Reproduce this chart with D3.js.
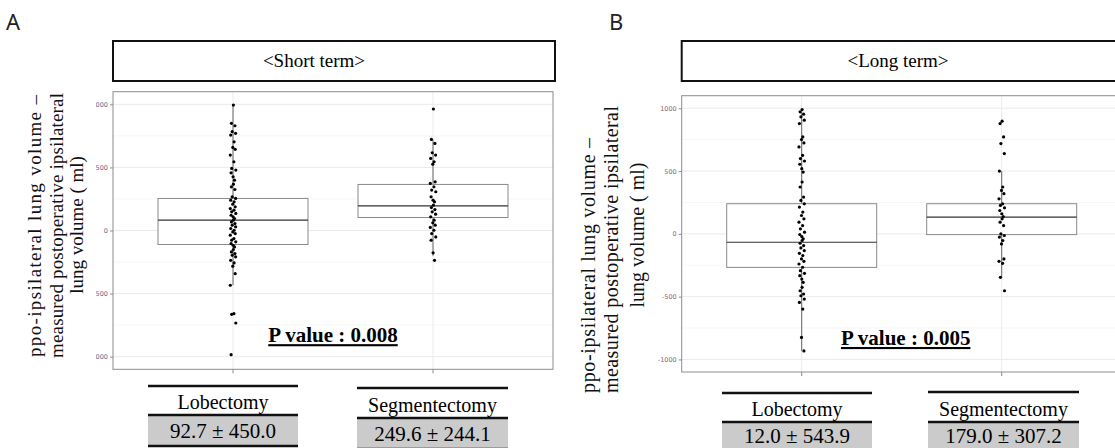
<!DOCTYPE html>
<html>
<head>
<meta charset="utf-8">
<script src="https://cdn.jsdelivr.net/npm/d3@7"></script>
<style>
  body { margin: 0; background: #fff; }
  svg { display: block; }
</style>
</head>
<body>
<svg id="chart" width="1115" height="448"></svg>
<script>
var width = 1115,
    height = 448;

// groups and y ticks
var groups = ["Lobectomy", "Segmentectomy"];
var tickVals = [-1000, -500, 0, 500, 1000];
var minorVals = [-750, -250, 250, 750];

// short term, individual differences (ml)
var shortLob = [994, 849, 830, 783, 770, 756, 703, 658, 643, 598, 545, 492, 479, 457, 426, 399, 367, 346, 325,
    267, 254, 240, 227, 209, 188, 174, 161, 148, 135, 121, 108, 95, 82, 68, 55, 42, 29, 16, 2, -11, -24, -37,
    -64, -77, -90, -103, -117, -130, -151, -170, -183, -196, -209, -236, -257, -283, -342, -434, -659, -664, -733, -984];
var shortSeg = [963, 722, 690, 616, 598, 571, 545, 526, 386, 373, 346, 320, 307, 267, 240, 227, 201, 182, 166,
    148, 129, 108, 82, 61, 42, 24, 2, -24, -51, -77, -177, -236];

// long term
var longLob = [990, 972, 953, 932, 905, 878, 772, 751, 724, 692, 625, 599, 580, 554, 519, 492, 413, 373, 293,
    266, 239, 213, 173, 146, 120, 93, 66, 40, 13, -5, -22, -40, -53, -75, -93, -112, -133, -155, -173, -200,
    -219, -240, -266, -293, -314, -333, -360, -386, -426, -453, -479, -493, -519, -546, -599, -825, -932];
var longSeg = [897, 878, 772, 719, 639, 500, 373, 346, 320, 279, 239, 226, 207, 186, 160, 138, 120, 93, 66,
    0, -13, -26, -53, -80, -200, -219, -235, -346, -453];

// box statistics
var shortBox = [
    { lo: -434, q1: -111, med: 82, q3: 254, hi: 994 },
    { lo: -200, q1: 103, med: 195, q3: 365, hi: 722 }
];
var longBox = [
    { lo: -932, q1: -267, med: -67, q3: 240, hi: 985 },
    { lo: -347, q1: -6, med: 133, q3: 240, hi: 500 }
];

// mean ± SD under each panel
var shortStats = ["92.7 ± 450.0", "249.6 ± 244.1"];
var longStats = ["12.0 ± 543.9", "179.0 ± 307.2"];
var pTexts = ["P value : 0.008", "P value : 0.005"];

var jitter = [0.4, -1.6, 1.9, -0.8, 2.6, -2.3, 1.1, -0.2, 2.2, -2.7, 0.9, -1.3, 2.8, -1.9, 0.1, 1.5];

var svg = d3.select("#chart");
var serif = "Liberation Serif, Times New Roman, serif";

// left tick labels are cut off at the figure edge in the original
svg.append("defs").append("clipPath").attr("id", "clipL")
    .append("rect").attr("x", 96).attr("y", 0).attr("width", 1019).attr("height", height);

function panel(o) {
    var x = d3.scaleLinear().domain([0.4, 2.6]).range([o.left, o.left + 440]);
    var y = d3.scaleLinear().domain([-1100, 1100]).range([o.bottom, o.top]);
    var g = svg.append("g");

    // panel letter
    svg.append("text").attr("x", o.letterX).attr("y", 30)
        .attr("font-family", "Noto Sans, DejaVu Sans, sans-serif")
        .attr("font-size", 22).attr("fill", "#222").text(o.letter);

    // strip header
    svg.append("rect").attr("x", o.left).attr("y", 41).attr("width", o.headW).attr("height", 40)
        .attr("fill", "#fff").attr("stroke", "#111").attr("stroke-width", 2);
    svg.append("text").attr("x", o.titleX).attr("y", 67)
        .attr("text-anchor", "middle").attr("font-family", serif).attr("font-size", 19)
        .text(o.title);

    // grid
    g.selectAll(".minor").data(minorVals).join("line")
        .attr("x1", o.left).attr("x2", o.left + 440)
        .attr("y1", d => y(d)).attr("y2", d => y(d))
        .attr("stroke", "#f4f4f4").attr("stroke-width", 0.8);
    g.selectAll(".major").data(tickVals).join("line")
        .attr("x1", o.left).attr("x2", o.left + 440)
        .attr("y1", d => y(d)).attr("y2", d => y(d))
        .attr("stroke", "#ebebeb").attr("stroke-width", 1);
    g.selectAll(".vgrid").data([1, 2]).join("line")
        .attr("x1", d => x(d)).attr("x2", d => x(d))
        .attr("y1", o.top).attr("y2", o.bottom)
        .attr("stroke", "#ebebeb").attr("stroke-width", 1);

    // boxes
    var box = g.selectAll(".box").data(o.box).join("g");
    box.append("line")
        .attr("x1", (d, i) => x(i + 1)).attr("x2", (d, i) => x(i + 1))
        .attr("y1", d => y(d.hi)).attr("y2", d => y(d.lo))
        .attr("stroke", "#666").attr("stroke-width", 1);
    box.append("rect")
        .attr("x", (d, i) => x(i + 1 - 0.375)).attr("width", x(1.75) - x(1))
        .attr("y", d => y(d.q3)).attr("height", d => y(d.q1) - y(d.q3))
        .attr("fill", "#fff").attr("stroke", "#8a8a8a").attr("stroke-width", 1);
    box.append("line")
        .attr("x1", (d, i) => x(i + 1 - 0.375)).attr("x2", (d, i) => x(i + 1.375))
        .attr("y1", d => y(d.med)).attr("y2", d => y(d.med))
        .attr("stroke", "#333").attr("stroke-width", 1.2);

    // points
    o.points.forEach(function (pts, gi) {
        g.selectAll(".pt" + gi).data(pts).join("circle")
            .attr("cx", (d, i) => x(gi + 1) + jitter[i % jitter.length])
            .attr("cy", d => y(d))
            .attr("r", 1.6).attr("fill", "#000");
    });

    // p value
    g.append("text").attr("x", x(o.pX)).attr("y", y(-885))
        .attr("text-anchor", "middle").attr("font-family", serif)
        .attr("font-size", 21).attr("font-weight", "bold")
        .attr("text-decoration", "underline").text(o.p);

    // border
    g.append("rect").attr("x", o.left).attr("y", o.top).attr("width", 440).attr("height", o.bottom - o.top)
        .attr("fill", "none").attr("stroke", "#8c8c8c").attr("stroke-width", 1);

    // y axis
    var wrap = svg.append("g").attr("clip-path", o.clip ? "url(#clipL)" : null);
    var ax = wrap.append("g").attr("transform", "translate(" + o.left + ",0)")
        .call(d3.axisLeft(y).tickValues(tickVals).tickFormat(d => String(d)).tickSize(3).tickPadding(2));
    ax.select(".domain").remove();
    ax.selectAll("line").attr("stroke", "#8c8c8c");
    ax.selectAll("text").attr("font-family", "DejaVu Sans, sans-serif")
        .attr("font-size", 6.5).attr("fill", o.tickColor);

    // x ticks under panel
    g.selectAll(".xt").data([1, 2]).join("line")
        .attr("x1", d => x(d)).attr("x2", d => x(d))
        .attr("y1", o.bottom).attr("y2", o.bottom + 4)
        .attr("stroke", "#8c8c8c");

    // y title
    var yt = svg.append("g").attr("font-family", serif).attr("fill", "#111");
    o.yTitle.forEach(function (t) {
        var tx = yt.append("text")
            .attr("transform", "translate(" + t.x + "," + t.y + ") rotate(-90)")
            .attr("text-anchor", t.len ? "start" : "middle").attr("font-size", o.titleSize)
            .text(t.s);
        if (t.len) tx.attr("textLength", t.len).attr("lengthAdjust", "spacing");
    });

    // stats tables
    o.tables.forEach(function (t, i) {
        var tg = svg.append("g");
        tg.append("rect").attr("x", t.x0).attr("y", t.mid).attr("width", t.x1 - t.x0).attr("height", t.bot - t.mid)
            .attr("fill", "#cbcbcb");
        [t.top, t.mid, t.bot].forEach(function (yy) {
            tg.append("line").attr("x1", t.x0).attr("x2", t.x1).attr("y1", yy).attr("y2", yy)
                .attr("stroke", "#111").attr("stroke-width", 2.5);
        });
        tg.append("text").attr("x", (t.x0 + t.x1) / 2).attr("y", t.mid - 6)
            .attr("text-anchor", "middle").attr("font-family", serif).attr("font-size", 20)
            .text(groups[i]);
        tg.append("text").attr("x", (t.x0 + t.x1) / 2).attr("y", t.valY)
            .attr("text-anchor", "middle").attr("font-family", serif).attr("font-size", 21)
            .text(o.stats[i]);
    });
}

panel({
    letter: "A", letterX: 6, title: "<Short term>", titleX: 314, left: 113, top: 91.7, bottom: 369.3, headW: 442,
    box: shortBox, points: [shortLob, shortSeg], p: pTexts[0], pX: 1.5, stats: shortStats,
    tickColor: "#66668a", clip: true, titleSize: 19,
    yTitle: [
        { s: "ppo-ipsilateral lung volume –", x: 41, y: 357, len: 262 },
        { s: "measured postoperative ipsilateral", x: 63, y: 358, len: 265 },
        { s: "lung volume ( ml)", x: 83, y: 225 }
    ],
    tables: [
        { x0: 148, x1: 298, top: 386, mid: 415, bot: 446, valY: 438 },
        { x0: 357, x1: 508, top: 388, mid: 418, bot: 449, valY: 441 }
    ]
});

panel({
    letter: "B", letterX: 609, title: "<Long term>", titleX: 898, left: 681.7, top: 95.7, bottom: 372, headW: 436,
    box: longBox, points: [longLob, longSeg], p: pTexts[1], pX: 1.52, stats: longStats,
    tickColor: "#8a6676", clip: false, titleSize: 20,
    yTitle: [
        { s: "ppo-ipsilateral lung volume –", x: 595, y: 393, len: 255 },
        { s: "measured postoperative ipsilateral", x: 618, y: 393, len: 287 },
        { s: "lung volume ( ml)", x: 644, y: 235 }
    ],
    tables: [
        { x0: 722, x1: 872, top: 393, mid: 422, bot: 452, valY: 443 },
        { x0: 928, x1: 1079, top: 392, mid: 422, bot: 452, valY: 443 }
    ]
});
</script>
</body>
</html>
